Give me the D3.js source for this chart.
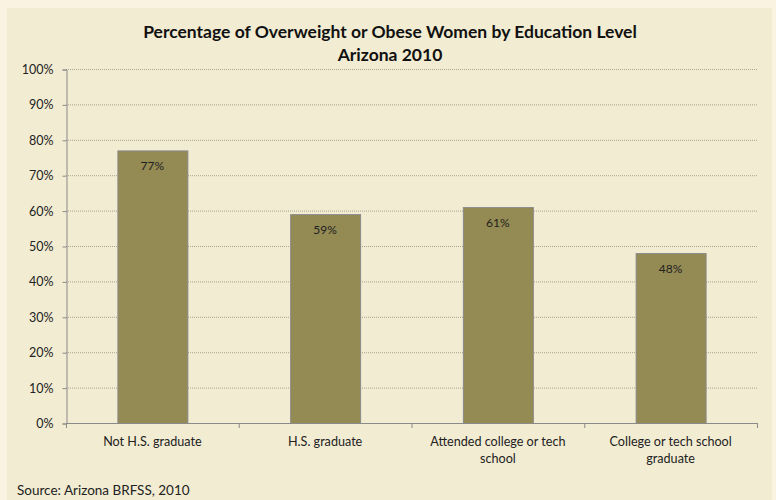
<!DOCTYPE html>
<html><head><meta charset="utf-8">
<script src="https://cdn.jsdelivr.net/npm/d3@7"></script>
<style>html,body{margin:0;padding:0;background:#fbf3e2;}svg{display:block;}</style>
</head><body>
<script>
const categories = [["Not H.S. graduate"], ["H.S. graduate"], ["Attended college or tech", "school"], ["College or tech school", "graduate"]];
const values = [77, 59, 61, 48];
const yTicks = [0, 10, 20, 30, 40, 50, 60, 70, 80, 90, 100];
const titleLines = ["Percentage of Overweight or Obese Women by Education Level", "Arizona 2010"];
const source = "Source: Arizona BRFSS, 2010";

(function () {
const W = 776, H = 500;
const font = "Lato, 'Open Sans', sans-serif";
const svg = d3.select("body").append("svg").attr("width", W).attr("height", H);
svg.append("rect").attr("width", W).attr("height", H).attr("fill", "#fbf3e2");
svg.append("rect").attr("x", 7).attr("y", 8).attr("width", 765).attr("height", 492).attr("fill", "#f2ecd2");

const pLeft = 66, pRight = 757, pTop = 69, pBottom = 423;
const x = d3.scaleBand().domain(d3.range(categories.length)).range([pLeft, pRight]).padding(0);
const y = d3.scaleLinear().domain([0, 100]).range([pBottom, pTop]);

// gridlines
svg.append("g").selectAll("line").data(yTicks.filter(d => d > 0)).join("line")
  .attr("x1", pLeft).attr("x2", pRight)
  .attr("y1", d => y(d) + 0.5).attr("y2", d => y(d) + 0.5)
  .attr("stroke", "#a8a290").attr("stroke-width", 1).attr("stroke-dasharray", "1,1");

// bars
const bw = x.bandwidth() * 0.405;
svg.append("g").selectAll("rect").data(values).join("rect")
  .attr("x", (d, i) => x(i) + (x.bandwidth() - bw) / 2 + 0.5)
  .attr("y", d => y(d) + 0.5)
  .attr("width", bw)
  .attr("height", d => pBottom - y(d))
  .attr("fill", "#948a54").attr("stroke", "#8a8a8a").attr("stroke-width", 1);

svg.append("g").selectAll("text").data(values).join("text")
  .attr("x", (d, i) => x(i) + x.bandwidth() / 2)
  .attr("y", d => y(d) + 20)
  .attr("text-anchor", "middle").attr("font-family", font).attr("font-size", 12).attr("fill", "#222")
  .text(d => d + "%");

// y axis
const yAxis = d3.axisLeft(y).tickValues(yTicks).tickFormat(d => d + "%").tickSize(4).tickPadding(9);
const ga = svg.append("g").attr("transform", `translate(${pLeft + 0.5},0.5)`).call(yAxis);
ga.select(".domain").attr("stroke", "#8a8a8a");
ga.selectAll(".tick line").attr("stroke", "#8a8a8a");
ga.selectAll("text").attr("font-family", font).attr("font-size", 12.5).attr("fill", "#222");

// x axis
const xAxis = d3.axisBottom(x).tickSize(0).tickFormat("");
const gx = svg.append("g").attr("transform", `translate(0,${pBottom + 0.5})`).call(xAxis);
gx.select(".domain").attr("stroke", "#8a8a8a").attr("d", `M${pLeft},0H${pRight}`);
svg.append("g").selectAll("line").data(d3.range(categories.length + 1)).join("line")
  .attr("x1", i => (i < categories.length ? x(i) : pRight) + 0.5)
  .attr("x2", i => (i < categories.length ? x(i) : pRight) + 0.5)
  .attr("y1", pBottom).attr("y2", pBottom + 5)
  .attr("stroke", "#8a8a8a");

const cl = svg.append("g").selectAll("text").data(categories).join("text")
  .attr("x", (d, i) => x(i) + x.bandwidth() / 2)
  .attr("y", pBottom + 23)
  .attr("text-anchor", "middle").attr("font-family", font).attr("font-size", 12.6).attr("fill", "#222");
cl.selectAll("tspan").data(d => d).join("tspan")
  .attr("x", function () { return d3.select(this.parentNode).attr("x"); })
  .attr("dy", (d, i) => i === 0 ? 0 : 17)
  .text(d => d);

// title
svg.append("g").selectAll("text").data(titleLines).join("text")
  .attr("x", 390).attr("y", (d, i) => 38 + i * 23)
  .attr("text-anchor", "middle").attr("font-family", font).attr("font-weight", "bold")
  .attr("font-size", 17.5).attr("fill", "#111").text(d => d);

svg.append("text").attr("x", 17).attr("y", 495).attr("font-family", font).attr("font-size", 13.5)
  .attr("fill", "#222").text(source);
})();
</script>
</body></html>
